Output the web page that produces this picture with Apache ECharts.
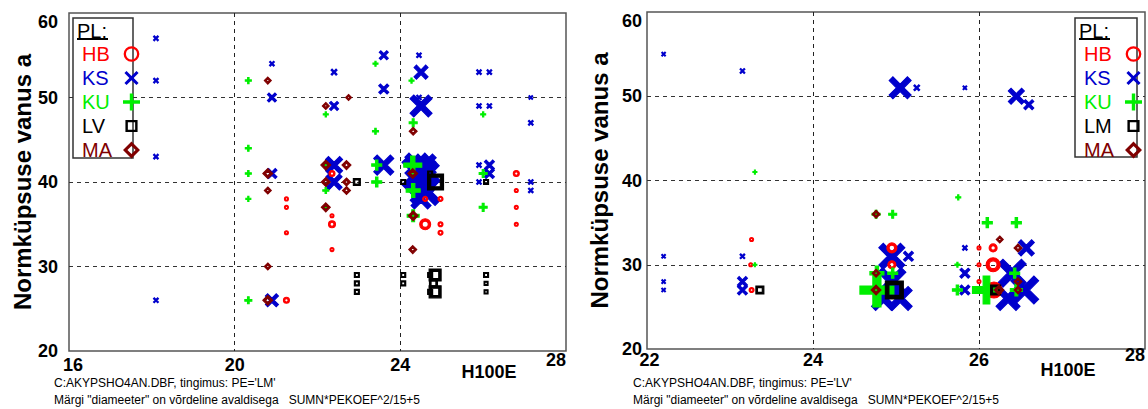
<!DOCTYPE html>
<html><head><meta charset="utf-8">
<script src="https://cdn.jsdelivr.net/npm/echarts@6/dist/echarts.min.js"></script>
<style>html,body{margin:0;padding:0;background:#fff}#c{width:1148px;height:409px}</style>
</head><body><div id="c"></div>
<script>
// ---- data: [H100E, normküpsuse vanus, marker diameter] ----
const legendNamesL = ['HB','KS','KU','LV','MA'];
const legendNamesR = ['HB','KS','KU','LM','MA'];
const xTicksL = [16,20,24,28];
const xTicksR = [22,24,26,28];
const yTicks = [20,30,40,50,60];

const L_HB = [[21.25,38,4],[21.25,37,4],[21.25,34,4],[21.25,26,6],[22.35,41,6],[22.35,36,4],[22.35,35,7],[22.35,32,4],
  [24.6,38,5],[24.6,35,11],[24.97,38,5],[24.97,35,5],[24.97,34,5],[26.8,41,6],[26.8,39,4],[26.8,37,4],[26.8,35,4]];
const L_KS = [[18.1,57,5],[18.1,52,5],[18.1,43,5],[18.1,26,5],[20.9,54,5],[20.9,50,9],[20.9,41,10],[20.9,26,13],
  [22.4,53,6],[22.4,49,9],[22.4,42,17],[22.4,40,16],[23.6,55,9],[23.6,51,10],[23.6,42,20],
  [24.45,55,5],[24.5,53,14],[24.45,50,5],[24.5,49,22],[24.45,41,34],[24.6,42,22],[24.4,42,24],[24.6,39,30],[24.5,38,20],
  [24.5,40,26],[24.65,41,24],
  [25.9,53,5],[26.15,53,5],[25.9,49,5],[26.15,49,5],[25.9,42,5],[26.15,42,10],[26.15,41,10],[25.9,40,5],
  [27.15,50,4],[27.15,47,5],[27.15,40,5],[27.15,39,5]];
const L_KU = [[20.33,52,6],[20.33,44,6],[20.33,41,6],[20.33,38,5],[20.33,26,7],[22.2,48,5],[22.2,42,6],[22.2,39,6],[22.2,37,4],
  [23.4,54,5],[23.4,46,6],[23.43,42,10],[23.43,40,10],[24.27,52,5],[24.31,47,8],[24.3,42,18],[24.31,39,14],[24.31,36,12],
  [26.0,48,5],[26.0,41,8],[26.0,37,8]];
const L_LV = [[22.95,40,7],[22.95,29,5],[22.95,28,5],[22.95,27,5],[24.07,40,5],[24.07,29,5],[24.07,28,5],[24.72,41,5],
  [24.85,40,16],[24.84,29,12],[24.8,28,8],[24.84,27,12],[24.72,29,5],[24.72,27,5],[26.07,40,5],[26.07,29,5],[26.07,28,4],[26.07,27,4]];
const L_MA = [[20.8,52,7],[20.8,41,10],[20.8,39,7],[20.8,30,7],[20.8,26,10],[22.2,49,7],[22.75,50,6],[22.2,42,10],[22.7,42,9],
  [22.2,40,9],[22.7,40,8],[22.7,39,8],[22.2,37,9],[24.31,46,8],[24.3,41,10],[24.31,36,10],[24.3,32,8]];

const R_HB = [[23.26,33,4],[23.25,30,4],[23.26,27,5],[24.95,32,10],[24.95,30,8],[26.0,32,4],[26.17,32,8],[26.0,30,4],
  [26.17,30,14],[26.0,28,4],[26.18,27,16]];
const R_KS = [[22.2,55,4],[22.2,31,4],[22.2,28,4],[22.2,27,4],[23.15,53,5],[23.15,31,5],[23.15,28,10],[23.15,27,10],
  [25.05,51,22],[25.25,51,6],[25.83,51,4],[26.45,50,16],[26.6,49,10],
  [24.95,31,26],[24.95,28,28],[24.85,26,24],[25.05,26,24],[25.15,31,10],
  [25.83,32,5],[25.83,29,10],[25.83,27,10],[26.57,32,16],[26.4,29,28],[26.55,27,28],[26.35,26,24]];
const R_KU = [[23.3,41,4],[23.3,30,4],[24.76,36,8],[24.96,36,8],[24.77,29,14],[24.96,29,10],[24.77,27,34],
  [25.75,38,5],[26.1,35,10],[26.45,35,10],[25.74,30,5],[25.74,27,10],[26.09,27,28],[26.43,29,10],[26.45,27,12]];
const R_LM = [[23.36,27,8],[24.98,27,18],[26.2,27,10]];
const R_MA = [[24.76,36,8],[24.76,29,8],[24.76,27,10],[26.25,33,7],[26.47,32,8],[26.24,27,10],[26.47,28,8],[26.47,27,8]];

const footL = ["C:AKYPSHO4AN.DBF, tingimus: PE='LM'", 'Märgi "diameeter" on võrdeline avaldisega   SUMN*PEKOEF^2/15+5'];
const footR = ["C:AKYPSHO4AN.DBF, tingimus: PE='LV'", 'Märgi "diameeter" on võrdeline avaldisega   SUMN*PEKOEF^2/15+5'];
const yTitle = 'Normküpsuse vanus a';
const xTitle = 'H100E';

// ---- styles ----
const FONT = '"Liberation Sans", Arial, sans-serif';
const COL = {HB:'#ff0000', KS:'#0000cc', KU:'#00ee00', LV:'#000000', LM:'#000000', MA:'#800000'};
const SYM = {
  HB: 'path://M50,0 A50,50 0 1,1 50,100 A50,50 0 1,1 50,0 Z M50,22 A28,28 0 1,0 50,78 A28,28 0 1,0 50,22 Z',
  KS: 'path://M0,17 L17,0 L50,33 L83,0 L100,17 L67,50 L100,83 L83,100 L50,67 L17,100 L0,83 L33,50 Z',
  KU: 'path://M38,0 L62,0 L62,38 L100,38 L100,62 L62,62 L62,100 L38,100 L38,62 L0,62 L0,38 L38,38 Z',
  LV: 'path://M0,0 L100,0 L100,100 L0,100 Z M20,20 L20,80 L80,80 L80,20 Z',
  LM: 'path://M0,0 L100,0 L100,100 L0,100 Z M20,20 L20,80 L80,80 L80,20 Z',
  MA: 'path://M50,0 L100,50 L50,100 L0,50 Z M50,28 L28,50 L50,72 L72,50 Z'
};
// legend icons: tiny invisible corner points keep a common frame so icons get their own sizes
const LEG_SYM = {
  HB: 'path://M-2,-2 L-2,-1.9 Z M102,102 L102,101.9 Z M50,2 A48,48 0 1,1 50,98 A48,48 0 1,1 50,2 Z M50,16 A34,34 0 1,0 50,84 A34,34 0 1,0 50,16 Z',
  KS: 'path://M-10,-10 L-10,-9.9 Z M110,110 L110,109.9 Z M0,15 L15,0 L50,35 L85,0 L100,15 L65,50 L100,85 L85,100 L50,65 L15,100 L0,85 L35,50 Z',
  KU: 'path://M40,0 L60,0 L60,40 L100,40 L100,60 L60,60 L60,100 L40,100 L40,60 L0,60 L0,40 L40,40 Z',
  LV: 'path://M-20,-20 L-20,-19.9 Z M120,120 L120,119.9 Z M0,0 L100,0 L100,100 L0,100 Z M20,20 L20,80 L80,80 L80,20 Z',
  LM: 'path://M-20,-20 L-20,-19.9 Z M120,120 L120,119.9 Z M0,0 L100,0 L100,100 L0,100 Z M20,20 L20,80 L80,80 L80,20 Z',
  MA: 'path://M50,0 L100,50 L50,100 L0,50 Z M50,26 L26,50 L50,74 L74,50 Z'
};

const grids = [
  {left:69, top:13, width:497, height:338},
  {left:647, top:12, width:498, height:337}
];

function sc(name, data, gi) {
  return {
    type:'scatter', name:name, xAxisIndex:gi, yAxisIndex:gi, data:data,
    symbol: SYM[name], symbolSize: v => v[2],
    itemStyle:{color:COL[name], borderColor:COL[name], borderWidth:1.1, opacity:1},
    emphasis:{disabled:true}, z: 3
  };
}

function xAxis(gi, min, max, interval, margin, minPad) {
  const base = {fontFamily:FONT, fontWeight:'bold', fontSize:18, lineHeight:18, color:'#000'};
  return {
    type:'value', gridIndex:gi, min:min, max:max, interval:interval,
    axisLine:{show:false}, axisTick:{show:false},
    axisLabel:{color:'#000', fontFamily:FONT, fontWeight:'bold', fontSize:18, lineHeight:18, margin:margin,
      alignMinLabel:'center', alignMaxLabel:'right',
      formatter: v => v === max ? '{hi|' + v + '}' : (v === min ? '{lo|' + v + '}' : String(v)),
      rich:{hi:Object.assign({padding:[0,0,10,0]}, base), lo:Object.assign({padding:[0,0,0,minPad]}, base)}},
    splitLine:{show:true, showMinLine:false, showMaxLine:false, lineStyle:{color:'#222', type:[4,4], width:1}},
    name:xTitle, nameLocation:'end', nameGap:-77,
    nameTextStyle:{color:'#000', fontFamily:FONT, fontWeight:'bold', fontSize:18, lineHeight:18, align:'center', verticalAlign:'top', padding:[12,0,0,0]}
  };
}
function yAxis(gi, margin, gap) {
  return {
    type:'value', gridIndex:gi, min:20, max:60, interval:10,
    axisLine:{show:false}, axisTick:{show:false},
    axisLabel:{color:'#000', fontFamily:FONT, fontWeight:'bold', fontSize:18, margin:margin, verticalAlignMaxLabel:'top'},
    splitLine:{show:true, showMinLine:false, showMaxLine:false, lineStyle:{color:'#333', type:[4,4], width:1}},
    name:yTitle, nameLocation:'middle', nameGap:gap, nameRotate:90,
    nameTextStyle:{color:'#000', fontFamily:FONT, fontWeight:'bold', fontSize:24}
  };
}

function legendOf(names, left) {
  const rich = {};
  names.forEach(n => { rich[n] = {color:COL[n], fontFamily:FONT, fontSize:20, lineHeight:18, width:36, align:'left'}; });
  return {
    orient:'vertical', left:left, top:39, itemWidth:17, itemHeight:17, itemGap:4, itemTextGap:3,
    align:'right', selectedMode:false,
    data: names.map(n => ({name:n, icon:LEG_SYM[n], itemStyle:{color:COL[n], borderWidth:0}})),
    formatter: n => '{' + n + '|' + n + '}',
    textStyle:{fontFamily:FONT, fontSize:20, lineHeight:18, color:'#000', rich:rich}
  };
}

function boxGraphics(x, y, w, h) {
  return [
    {type:'rect', shape:{x:x, y:y, width:w, height:h}, style:{fill:'#fff', stroke:'#333', lineWidth:1.5}, z:1},
    {type:'text', x:x+4, y:y+3, style:{text:'PL:', font:'20px ' + FONT, fill:'#000'}, z:10},
    {type:'line', shape:{x1:x+4, y1:y+21, x2:x+35, y2:y+21}, style:{stroke:'#000', lineWidth:2}, z:10}
  ];
}
function footGraphics(x, lines) {
  return lines.map((t,i) => ({type:'text', x:x, y:377 + i*17, style:{text:t, font:'12px ' + FONT, fill:'#000'}}));
}

const chart = echarts.init(document.getElementById('c'), null, {renderer:'svg'});
chart.setOption({
  animation:false,
  backgroundColor:'#fff',
  grid: grids.map(g => Object.assign({show:true, borderColor:'#555', borderWidth:1.5, backgroundColor:'transparent'}, g)),
  xAxis:[xAxis(0, xTicksL[0], xTicksL[xTicksL.length-1], 4, 5, 8), xAxis(1, xTicksR[0], xTicksR[xTicksR.length-1], 2, 2, 5)],
  yAxis:[yAxis(0, 11, 31), yAxis(1, 5, 36)],
  legend:[legendOf(legendNamesL, 77), legendOf(legendNamesR, 1079)],
  series:[
    sc('KS', L_KS, 0), sc('HB', L_HB, 0), sc('KU', L_KU, 0), sc('LV', L_LV, 0), sc('MA', L_MA, 0),
    sc('KS', R_KS, 1), sc('HB', R_HB, 1), sc('KU', R_KU, 1), sc('LM', R_LM, 1), sc('MA', R_MA, 1)
  ],
  graphic:[].concat(boxGraphics(73,18,60,140), boxGraphics(1075,18,62,139), footGraphics(54, footL), footGraphics(633, footR))
});
</script></body></html>
